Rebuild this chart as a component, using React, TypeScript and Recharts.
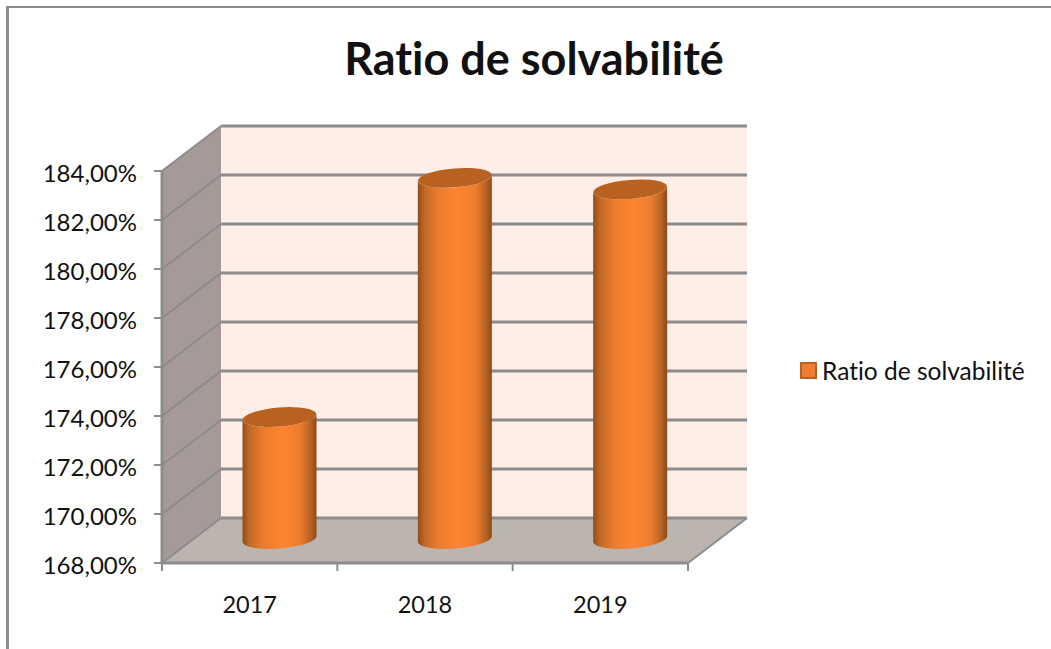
import { Bar, CartesianGrid, ComposedChart, Legend, ReferenceArea, XAxis, YAxis } from "recharts";

const years = ["2017", "2018", "2019"];
const ratios = [173.04, 182.8, 182.33];
const yTicks = [168, 170, 172, 174, 176, 178, 180, 182, 184];
const seriesName = "Ratio de solvabilité";

const rows = years.map((year, i) => ({ year, ratio: ratios[i] }));

const FONT = "Lato, 'Open Sans', sans-serif";
const GRID = "#8c8c8c";
// how far the back wall sits behind the front plane
const DEPTH_X = 59;
const DEPTH_Y = -45;

function Walls(props: any) {
  const { x, y, width, height } = props;
  const bottom = y + height;
  const right = x + width;
  const bx = x + DEPTH_X;
  const ty = y + DEPTH_Y;
  const by = bottom + DEPTH_Y;
  const boundaries = years.map((_, i) => x + (width * i) / years.length).concat(right);
  return (
    <g>
      <polygon points={`${bx},${ty} ${right + DEPTH_X},${ty} ${right + DEPTH_X},${by} ${bx},${by}`} fill="#ffede8" />
      <polygon points={`${x},${y} ${bx},${ty} ${bx},${by} ${x},${bottom}`} fill="#a59a97" />
      <polygon points={`${x},${bottom} ${bx},${by} ${right + DEPTH_X},${by} ${right},${bottom}`} fill="#bdb3af" />
      <line x1={right} y1={bottom} x2={right + DEPTH_X} y2={by} stroke={GRID} strokeWidth={2} />
      {boundaries.map((tx) => (
        <line key={tx} x1={tx} y1={bottom} x2={tx} y2={bottom + 8} stroke={GRID} strokeWidth={2} />
      ))}
    </g>
  );
}

function GridLine(props: any) {
  const { x1, x2, y1, index } = props;
  return (
    <g key={index}>
      <line x1={x1} y1={y1} x2={x1 + DEPTH_X} y2={y1 + DEPTH_Y} stroke={GRID} strokeWidth={2} />
      <line x1={x1 + DEPTH_X} y1={y1 + DEPTH_Y} x2={x2 + DEPTH_X} y2={y1 + DEPTH_Y} stroke={GRID} strokeWidth={3} />
    </g>
  );
}

function Cylinder(props: any) {
  const { x, y, width, height, index } = props;
  const cx = x + width / 2 + DEPTH_X / 2;
  const top = y + DEPTH_Y / 2;
  const base = y + height + DEPTH_Y / 2 - 1.5;
  const rx = width / 2;
  const ry = 9.5;
  const tilt = 3;
  const angle = -4.6;
  const id = `cyl${index}`;
  return (
    <g>
      <defs>
        <linearGradient id={id} x1="0" y1="0" x2="1" y2="0">
          <stop offset="0" stopColor="#8f4d1c" />
          <stop offset="0.09" stopColor="#c06826" />
          <stop offset="0.28" stopColor="#ec7c2e" />
          <stop offset="0.55" stopColor="#fe8532" />
          <stop offset="0.78" stopColor="#ec7c2e" />
          <stop offset="0.92" stopColor="#b86324" />
          <stop offset="1" stopColor="#8a4a1b" />
        </linearGradient>
      </defs>
      <path
        d={`M${cx - rx},${top + tilt} L${cx - rx},${base + tilt} A${rx},${ry} ${angle} 0 0 ${cx + rx},${base - tilt} L${cx + rx},${top - tilt} A${rx},${ry} ${angle} 0 1 ${cx - rx},${top + tilt} Z`}
        fill={`url(#${id})`}
      />
      <ellipse cx={cx} cy={top} rx={rx} ry={ry} fill="#b86222" transform={`rotate(${angle} ${cx} ${top})`} />
    </g>
  );
}

function LegendBox(props: any) {
  const entry = props.payload?.[0];
  return (
    <div style={{ display: "flex", alignItems: "center", fontFamily: FONT, fontSize: 24.5, fontVariantLigatures: "none", color: "#111", whiteSpace: "nowrap" }}>
      <span style={{ width: 13, height: 13, background: entry?.color, border: "2px solid #b86222", marginRight: 5 }} />
      {entry?.value}
    </div>
  );
}

export default function App() {
  return (
    <div style={{ position: "absolute", left: 0, top: 0, width: 1051, height: 649, background: "#fff", overflow: "hidden" }}>
      <div style={{ position: "absolute", left: 6, top: 6, right: 0, bottom: 0, borderLeft: `3px solid ${GRID}`, borderTop: `2px solid ${GRID}` }} />
      <div style={{ position: "absolute", left: 300, top: 30, width: 468, textAlign: "center", fontFamily: FONT, fontWeight: 700, fontSize: 45, fontVariantLigatures: "none", lineHeight: "56px", color: "#111", whiteSpace: "nowrap" }}>
        {seriesName}
      </div>
      <ComposedChart
        width={1051}
        height={649}
        data={rows}
        margin={{ top: 171, right: 363, bottom: 0, left: 0 }}
        style={{ position: "absolute", left: 0, top: 0 }}
      >
        <ReferenceArea y1={168} y2={184} shape={<Walls />} ifOverflow="visible" zIndex={-200} />
        <CartesianGrid vertical={false} horizontal={(p: any) => <GridLine {...p} />} horizontalValues={yTicks} />
        <XAxis
          dataKey="year"
          height={86}
          tickLine={false}
          tickMargin={27}
          axisLine={{ stroke: GRID, strokeWidth: 3 }}
          tick={{ fill: "#111", fontFamily: FONT, fontSize: 23.5 }}
        />
        <YAxis
          width={162}
          domain={[168, 184]}
          ticks={yTicks}
          interval={0}
          tickSize={8}
          tickMargin={17}
          tickFormatter={(v: number) => `${v},00%`}
          axisLine={{ stroke: GRID, strokeWidth: 3 }}
          tickLine={{ stroke: GRID, strokeWidth: 2 }}
          tick={{ fill: "#111", fontFamily: FONT, fontSize: 24, dy: 2 }}
        />
        <Legend
          layout="vertical"
          align="center"
          verticalAlign="middle"
          content={<LegendBox />}
          wrapperStyle={{ left: 800, top: 356, width: 250, bottom: "auto", right: "auto" }}
        />
        <Bar dataKey="ratio" name={seriesName} fill="#f07d32" barSize={74} shape={<Cylinder />} isAnimationActive={false} />
      </ComposedChart>
    </div>
  );
}
